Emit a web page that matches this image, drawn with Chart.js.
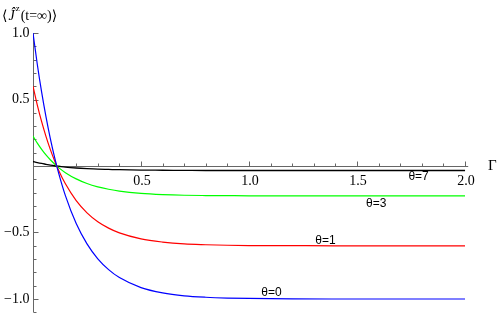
<!DOCTYPE html>
<html>
<head>
<meta charset="utf-8">
<script src="https://cdn.jsdelivr.net/npm/chart.js@4"></script>
<style>
  html, body { margin: 0; padding: 0; background: #fff; }
</style>
</head>
<body>
<canvas id="jzChart" width="500" height="314"></canvas>
<script>
// values
const gammaValues = [0, 0.02, 0.04, 0.06, 0.08, 0.1, 0.12, 0.15, 0.2, 0.25, 0.3, 0.35, 0.4, 0.5, 0.6, 0.7, 0.8, 0.9, 1.0, 1.2, 1.4, 1.6, 1.8, 2.0];
const theta0 = [1.0, 0.763, 0.555, 0.371, 0.208, 0.065, -0.061, -0.223, -0.433, -0.586, -0.698, -0.779, -0.839, -0.914, -0.954, -0.976, -0.987, -0.993, -0.996, -0.999, -1.0, -1.0, -1.0, -1.0];
const theta1 = [0.6, 0.458, 0.333, 0.223, 0.125, 0.039, -0.037, -0.134, -0.26, -0.352, -0.419, -0.467, -0.503, -0.548, -0.572, -0.586, -0.592, -0.596, -0.598, -0.599, -0.6, -0.6, -0.6, -0.6];
const theta3 = [0.225, 0.172, 0.125, 0.083, 0.047, 0.015, -0.014, -0.05, -0.097, -0.132, -0.157, -0.175, -0.189, -0.206, -0.215, -0.22, -0.222, -0.223, -0.224, -0.225, -0.225, -0.225, -0.225, -0.225];
const theta7 = [0.034, 0.026, 0.019, 0.013, 0.007, 0.002, -0.002, -0.008, -0.015, -0.02, -0.024, -0.026, -0.028, -0.031, -0.032, -0.033, -0.034, -0.034, -0.034, -0.034, -0.034, -0.034, -0.034, -0.034];

const seriesColors = ["#0000ff", "#ff0000", "#00ff00", "#000000"];
const curveLabels = ["θ=0", "θ=1", "θ=3", "θ=7"];
const labelX = [1.104, 1.354, 1.589, 1.785];
const labelY = [-0.951, -0.558, -0.282, -0.082];

const xTickValues = [0.5, 1.0, 1.5, 2.0];
const xTickLabels = ["0.5", "1.0", "1.5", "2.0"];
const yTickValues = [1.0, 0.5, -0.5, -1.0];
const yTickLabels = ["1.0", "0.5", "\u22120.5", "\u22121.0"];

function toPoints(values) {
  return values.map((v, i) => ({ x: gammaValues[i], y: v }));
}

const serif = "'Liberation Serif', 'DejaVu Serif', serif";

// Mathematica style axes crossing at the origin
const axesPlugin = {
  id: "mmaAxes",
  beforeDatasetsDraw(chart) {
    const ctx = chart.ctx;
    const xs = chart.scales.x;
    const ys = chart.scales.y;
    const x0 = Math.round(xs.getPixelForValue(0)) + 0.5;
    const y0 = Math.round(ys.getPixelForValue(0)) + 0.5;

    ctx.save();
    ctx.strokeStyle = "#666";
    ctx.lineWidth = 1;
    ctx.beginPath();
    ctx.moveTo(xs.left, y0);
    ctx.lineTo(xs.right + 1, y0);
    ctx.moveTo(x0, ys.top);
    ctx.lineTo(x0, ys.bottom);

    // x ticks every 0.1, longer at 0.5
    for (let i = 1; i <= 20; i++) {
      const px = Math.round(xs.getPixelForValue(i / 10)) + 0.5;
      const len = i % 5 === 0 ? 5 : 3;
      ctx.moveTo(px, y0);
      ctx.lineTo(px, y0 - len);
    }
    // y ticks every 0.1
    for (let i = -11; i <= 10; i++) {
      if (i === 0) continue;
      const py = Math.round(ys.getPixelForValue(i / 10)) + 0.5;
      const len = i % 5 === 0 ? 5 : 3;
      ctx.moveTo(x0, py);
      ctx.lineTo(x0 + len, py);
    }
    ctx.stroke();

    ctx.fillStyle = "#000";
    ctx.font = "14px " + serif;
    ctx.textBaseline = "middle";
    ctx.textAlign = "center";
    xTickValues.forEach((v, i) => {
      ctx.fillText(xTickLabels[i], xs.getPixelForValue(v) + 1, y0 + 15);
    });
    ctx.textAlign = "right";
    yTickValues.forEach((v, i) => {
      ctx.fillText(yTickLabels[i], x0 - 4, ys.getPixelForValue(v));
    });

    // axis labels
    ctx.textAlign = "left";
    ctx.font = "15px " + serif;
    ctx.fillText("\u0393", 488, y0);

    ctx.textBaseline = "alphabetic";
    ctx.font = "14px " + serif;
    let px = 2;
    ctx.fillText("\u27E8", px, 20);
    px += ctx.measureText("\u27E8").width + 1;
    ctx.font = "italic 14px " + serif;
    ctx.fillText("\u0134", px, 20);
    px += ctx.measureText("\u0134").width + 1;
    ctx.font = "9px " + serif;
    ctx.fillText("z", px, 11);
    px += ctx.measureText("z").width + 1;
    ctx.font = "14px " + serif;
    ctx.fillText("(t=\u221E)", px, 20);
    px += ctx.measureText("(t=\u221E)").width;
    ctx.fillText("\u27E9", px, 20);
    ctx.restore();
  },
  afterDatasetsDraw(chart) {
    const ctx = chart.ctx;
    const xs = chart.scales.x;
    const ys = chart.scales.y;
    ctx.save();
    ctx.fillStyle = "#000";
    ctx.font = "12px 'Liberation Sans', Arial, sans-serif";
    ctx.textAlign = "center";
    ctx.textBaseline = "middle";
    curveLabels.forEach((t, i) => {
      ctx.fillText(t, xs.getPixelForValue(labelX[i]), ys.getPixelForValue(labelY[i]));
    });
    ctx.restore();
  }
};

const ctx = document.getElementById("jzChart").getContext("2d");

const jzChart = new Chart(ctx, {
  type: "line",
  data: {
    datasets: [theta0, theta1, theta3, theta7].map((vals, i) => ({
      label: curveLabels[i],
      data: toPoints(vals),
      borderColor: seriesColors[i],
      borderWidth: i === 3 ? 1.3 : 1.2,
      pointRadius: 0,
      fill: false,
      cubicInterpolationMode: "monotone"
    }))
  },
  options: {
    responsive: false,
    animation: false,
    devicePixelRatio: 1,
    layout: {
      padding: { left: 33, top: 33, right: 32.8, bottom: 1.7 }
    },
    scales: {
      x: { type: "linear", min: 0, max: 2.01, display: false },
      y: { type: "linear", min: -1.1, max: 1.0, display: false }
    },
    plugins: {
      legend: { display: false },
      tooltip: { enabled: false }
    }
  },
  plugins: [axesPlugin]
});
</script>
</body>
</html>
